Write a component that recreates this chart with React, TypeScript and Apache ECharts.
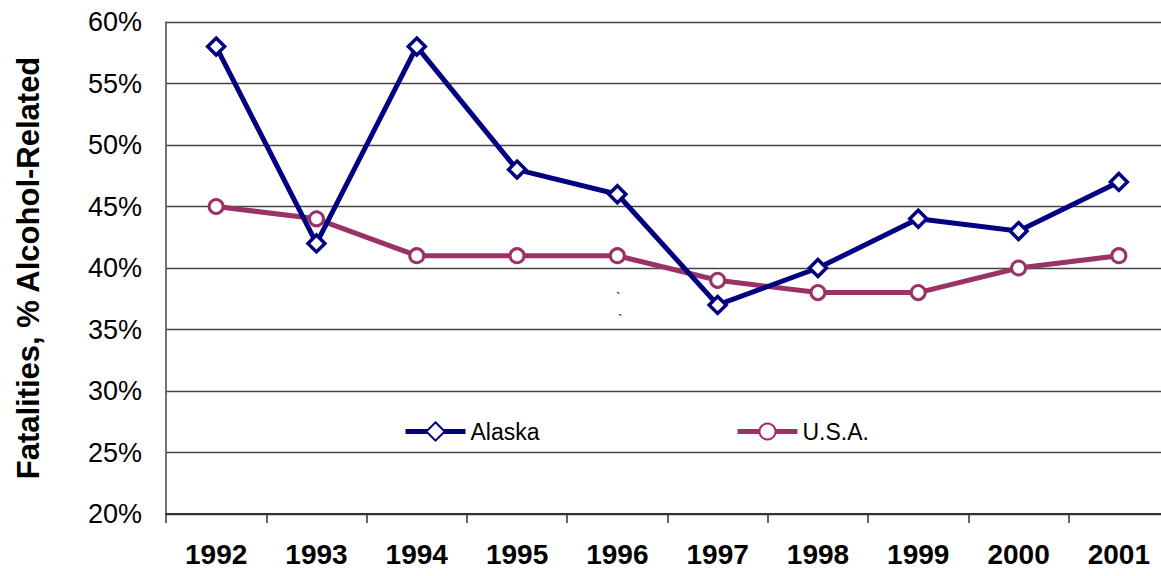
import React, { useEffect, useRef } from "react";
import * as echarts from "echarts";

const years = ["1992", "1993", "1994", "1995", "1996", "1997", "1998", "1999", "2000", "2001"];
const alaska = [58, 42, 58, 48, 46, 37, 40, 44, 43, 47];
const usa = [45, 44, 41, 41, 41, 39, 38, 38, 40, 41];
const yTitle = "Fatalities, % Alcohol-Related";

export default function App() {
  const ref = useRef<HTMLDivElement>(null);
  useEffect(() => {
    const chart = echarts.init(ref.current!, undefined, { renderer: "svg" });
    const font = "Liberation Sans, Arial, sans-serif";
    chart.setOption({
      animation: false,
      backgroundColor: "#ffffff",
      grid: { left: 166, top: 22, right: 11, bottom: 62, containLabel: false },
      legend: [
        {
          data: ["Alaska"],
          left: 403,
          top: 420,
          padding: 0,
          itemWidth: 60,
          itemHeight: 23,
          itemGap: 6,
          lineStyle: { width: 5 },
          textStyle: { fontFamily: font, fontSize: 23, color: "#000" },
        },
        {
          data: ["U.S.A."],
          left: 735,
          top: 420,
          padding: 0,
          itemWidth: 60,
          itemHeight: 20,
          lineStyle: { width: 5 },
          textStyle: { fontFamily: font, fontSize: 23, color: "#000" },
        },
      ],
      xAxis: {
        type: "category",
        data: years,
        boundaryGap: true,
        axisLine: { show: true, lineStyle: { color: "#333", width: 2 } },
        axisTick: { show: true, length: 9, lineStyle: { color: "#333", width: 1.5 } },
        axisLabel: {
          margin: 26,
          fontFamily: font,
          fontSize: 28,
          fontWeight: "bold",
          color: "#000",
        },
        splitLine: { show: false },
      },
      yAxis: {
        type: "value",
        min: 20,
        max: 60,
        interval: 5,
        name: yTitle,
        nameLocation: "middle",
        nameGap: 122,
        nameRotate: 90,
        nameTextStyle: { fontFamily: font, fontSize: 31, fontWeight: "bold", color: "#000" },
        axisLine: { show: true, lineStyle: { color: "#444", width: 1.5 } },
        axisTick: { show: false },
        axisLabel: {
          margin: 24,
          fontFamily: font,
          fontSize: 27,
          color: "#000",
          formatter: (v: number) => v + "%",
        },
        splitLine: { show: true, lineStyle: { color: "#444", width: 1.3 } },
      },
      series: [
        {
          name: "Alaska",
          type: "line",
          data: alaska,
          symbol: "diamond",
          symbolSize: 17,
          lineStyle: { color: "#000080", width: 5 },
          itemStyle: { color: "#ffffff", borderColor: "#000080", borderWidth: 3.5 },
          z: 3,
        },
        {
          name: "U.S.A.",
          type: "line",
          data: usa,
          symbol: "circle",
          symbolSize: 14,
          lineStyle: { color: "#993366", width: 5 },
          itemStyle: { color: "#ffffff", borderColor: "#993366", borderWidth: 3 },
          z: 2,
        },
      ],
      graphic: [
        { type: "text", left: 616, top: 291, style: { text: "`", fill: "#000", font: "14px Liberation Sans" } },
        { type: "text", left: 618, top: 313, style: { text: "`", fill: "#000", font: "14px Liberation Sans" } },
      ],
    });
    return () => chart.dispose();
  }, []);
  return (
    <div style={{ position: "fixed", left: 0, top: 0, width: 1161, height: 576, overflow: "hidden", background: "#fff" }}>
      <div ref={ref} style={{ width: 1180, height: 576 }} />
    </div>
  );
}
